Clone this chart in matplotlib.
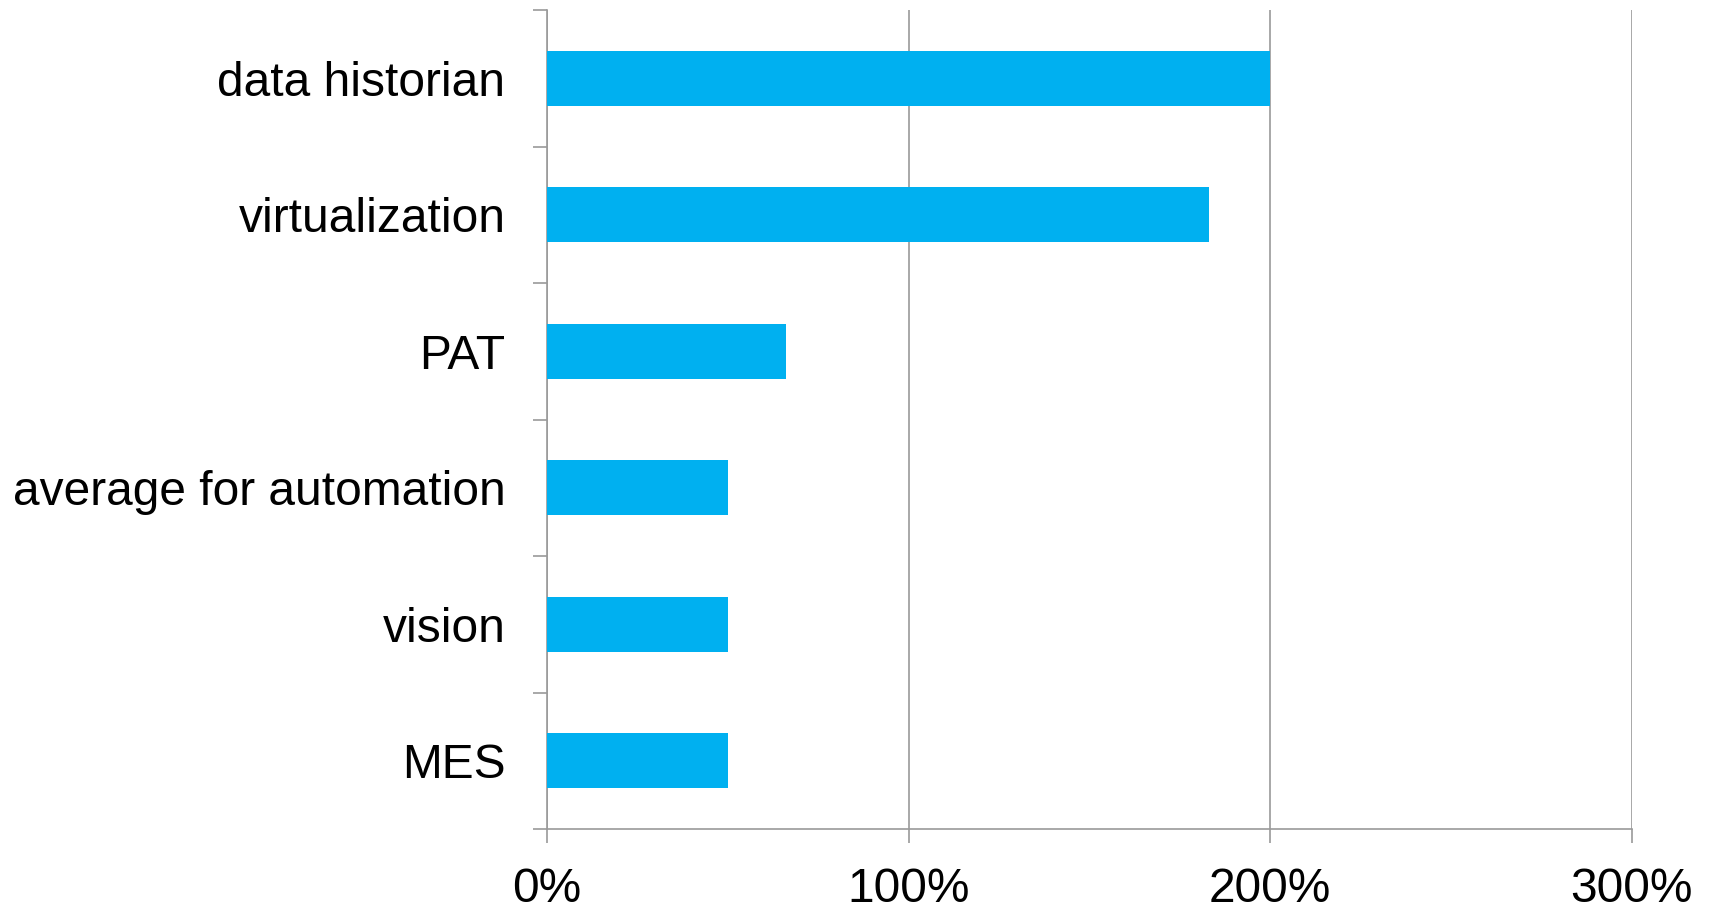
import numpy as np
import matplotlib.pyplot as plt
from matplotlib.ticker import PercentFormatter

plt.rcParams['font.family'] = ['Liberation Sans', 'DejaVu Sans']

# categories listed top to bottom
categories = ["data historian", "virtualization", "PAT",
              "average for automation", "vision", "MES"]
growth = [2.00, 1.83, 0.66, 0.50, 0.50, 0.50]
x_ticks = [0, 1, 2, 3]

bar_color = "#00B0F0"
line_color = "#9A9A9A"

fig = plt.figure(figsize=(17.11, 9.10), dpi=100)
ax = fig.add_axes([0.3197, 0.089, 0.6341, 0.900])

pos = np.arange(len(categories))
ax.barh(pos, growth, height=0.4, color=bar_color, zorder=3)

ax.set_xlim(0, 3)
ax.set_ylim(len(categories) - 0.5, -0.5)

# x axis
ax.set_xticks(x_ticks)
ax.xaxis.set_major_formatter(PercentFormatter(1.0, decimals=0))
ax.tick_params(axis='x', direction='out', length=10, width=1.2,
               color=line_color, labelsize=34.5, pad=17)
ax.grid(axis='x', color=line_color, linewidth=1.2, zorder=0)

# y axis: ticks at category boundaries, labels at centres
ax.set_yticks(np.arange(len(categories) + 1) - 0.5)
ax.set_yticklabels([])
ax.set_yticks(pos, minor=True)
ax.set_yticklabels(categories, minor=True)
ax.tick_params(axis='y', which='major', direction='out', length=10,
               width=1.2, color=line_color)
ax.tick_params(axis='y', which='minor', length=0, labelsize=34.5, pad=30)

for side in ['top', 'right']:
    ax.spines[side].set_visible(False)
for side in ['left', 'bottom']:
    ax.spines[side].set_color(line_color)
    ax.spines[side].set_linewidth(1.2)

fig.savefig("out.png", dpi=100)
